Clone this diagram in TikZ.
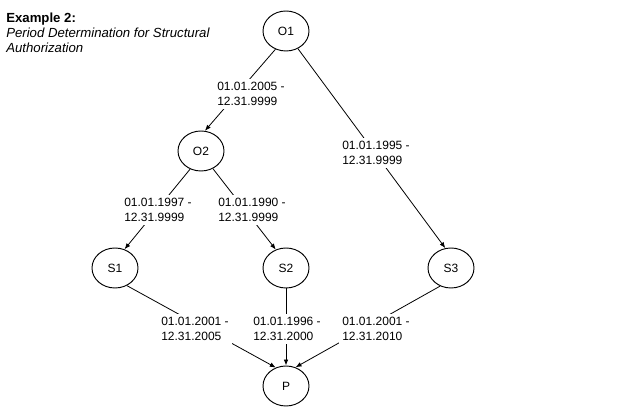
\documentclass[tikz,border=0pt]{standalone}
\usepackage{fontspec}
\setmainfont{Liberation Sans}
\usetikzlibrary{shapes.geometric,arrows.meta}
\begin{document}
\begin{tikzpicture}[x=0.75pt,y=-0.75pt,
  state/.style={draw, ellipse, minimum width=34.5pt, minimum height=30pt,
    inner sep=0pt, line width=0.7pt, font=\fontsize{9pt}{11pt}\selectfont},
  conn/.style={line width=0.6pt, -{Latex[length=4.5pt,width=3.5pt]}},
  period/.style={fill=white, inner sep=2.5pt, anchor=north west, align=left,
    font=\fontsize{9pt}{11.25pt}\selectfont},
  titlebox/.style={inner sep=0pt, anchor=north west, align=left,
    font=\fontsize{9.9pt}{11.25pt}\selectfont}
]
\useasboundingbox (0,0) rectangle (636,416);

% title
\node[titlebox] (title) at (6,13)
  {\textbf{Example 2:}\\ \textit{Period Determination for Structural}\\ \textit{Authorization}};

% states
\node[state] (O1) at (286,31) {O1};
\node[state] (O2) at (201,151) {O2};
\node[state] (S1) at (115,268) {S1};
\node[state] (S2) at (286,268) {S2};
\node[state] (S3) at (451,268) {S3};
\node[state] (P)  at (286,386) {P};

% connectors
\draw[conn] (O1.-120) -- (O2.79);
\draw[conn] (O1.-56) -- (S3.106);
\draw[conn] (O2.-121) -- (S1.63);
\draw[conn] (O2.-56) -- (S2.119);
\draw[conn] (S1.-56) -- (P.119);
\draw[conn] (S2.south) -- (P.north);
\draw[conn] (S3.-121) -- (P.63);

% period labels
\node[period] (l1) at (213.7,78.7) {01.01.2005 -\\12.31.9999};
\node[period] (l2) at (338.7,137.7) {01.01.1995 -\\12.31.9999};
\node[period] (l3) at (120.7,194.7) {01.01.1997 -\\12.31.9999};
\node[period] (l4) at (214.7,194.7) {01.01.1990 -\\12.31.9999};
\node[period] (l5) at (157.7,313.7) {01.01.2001 -\\12.31.2005};
\node[period] (l6) at (249.7,313.7) {01.01.1996 -\\12.31.2000};
\node[period] (l7) at (338.7,313.7) {01.01.2001 -\\12.31.2010};
\end{tikzpicture}
\end{document}
